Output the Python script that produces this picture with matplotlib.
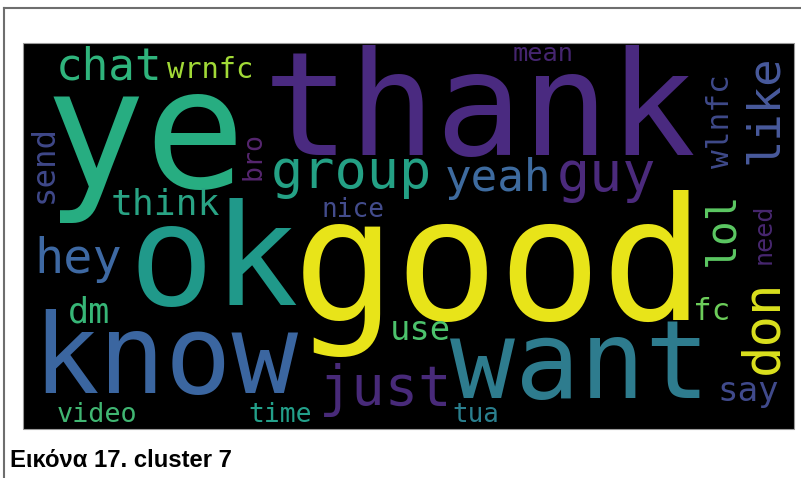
import matplotlib
matplotlib.use("Agg")
import matplotlib.pyplot as plt
from matplotlib.font_manager import FontProperties
from matplotlib.textpath import TextPath
from matplotlib.patches import Rectangle

# words of the cloud for cluster 7
words = ["good", "thank", "ye", "ok", "know", "want",
         "group", "yeah", "guy", "like", "lol", "don", "just", "hey",
         "chat", "wrnfc", "think", "wlnfc", "send", "bro", "nice",
         "dm", "use", "fc", "say", "need", "mean", "video", "time", "tua"]
word_colors = ["#e8e419", "#4a2a80", "#27ad81", "#20998a", "#3b66a0", "#2e7c8e",
               "#24a185", "#3e6b9f", "#4b2a7c", "#485a9c", "#5cc863", "#dbe11e", "#482a79", "#3e69a3",
               "#2fb47c", "#a2da37", "#29a384", "#3f4a8a", "#3f4889", "#56266f", "#434c8c",
               "#37b677", "#4cc26c", "#6ccd5a", "#404a8b", "#47276f", "#45256f", "#40b672", "#23a08a", "#2a7f8e"]
vertical = ["like", "lol", "don", "wlnfc", "send", "bro", "need"]
caption = "Εικόνα 17. cluster 7"

# ink box of each word in the picture, pixels (x0, y0, x1, y1)
layout = {
    "good": (308, 188, 690, 357), "thank": (270, 45, 690, 157),
    "ye": (53, 95, 237, 223), "ok": (135, 197, 293, 307),
    "know": (38, 310, 293, 395), "want": (455, 323, 705, 400),
    "group": (275, 158, 428, 200), "yeah": (440, 163, 556, 200),
    "guy": (563, 157, 650, 203), "like": (742, 48, 772, 170),
    "lol": (702, 187, 728, 270), "don": (738, 277, 773, 377),
    "just": (325, 363, 447, 417), "hey": (28, 245, 128, 283),
    "chat": (58, 47, 160, 80), "wrnfc": (163, 58, 257, 78),
    "think": (113, 187, 218, 215), "wlnfc": (705, 60, 723, 183),
    "send": (28, 128, 53, 200), "bro": (240, 130, 257, 183),
    "nice": (318, 200, 388, 217), "dm": (68, 298, 110, 323),
    "use": (393, 320, 447, 340), "fc": (695, 297, 728, 320),
    "say": (722, 380, 775, 408), "need": (752, 198, 767, 270),
    "mean": (513, 47, 573, 61), "video": (55, 403, 140, 422),
    "time": (248, 403, 313, 422), "tua": (455, 403, 497, 422),
}

W, H, DPI = 801, 478, 100
fig = plt.figure(figsize=(W / DPI, H / DPI), dpi=DPI)
ax = fig.add_axes([0, 0, 1, 1])
ax.set_xlim(0, W)
ax.set_ylim(H, 0)
ax.axis("off")

# frame of the page and the black cloud image
ax.plot([4, W], [8, 8], color="#6e6e6e", lw=1.5)
ax.plot([4, 4], [8, H], color="#6e6e6e", lw=1.5)
ax.add_patch(Rectangle((23, 43), 771, 386, facecolor="black", edgecolor="#9a9a9a", lw=0.8))

mono = FontProperties(family="DejaVu Sans Mono")


def ink_extents(text, fp):
    ext = TextPath((0, 0), text, size=100, prop=fp).get_extents()
    return ext.x0 / 100, ext.y0 / 100, ext.x1 / 100, ext.y1 / 100


for w, c in zip(words, word_colors):
    x0, y0, x1, y1 = layout[w]
    xmin, ymin, xmax, ymax = ink_extents(w, mono)
    rot = w in vertical
    along, across = (y1 - y0, x1 - x0) if rot else (x1 - x0, y1 - y0)
    s = ((along / (xmax - xmin)) * (across / (ymax - ymin))) ** 0.5
    if rot:
        px, py, angle = x0 + ymax * s, (y0 + y1) / 2, 90
    else:
        px, py, angle = (x0 + x1) / 2, y1 + ymin * s, 0
    ax.text(px, py, w, fontproperties=mono, fontsize=s * 72 / DPI, color=c,
            ha="center", va="baseline", rotation=angle, rotation_mode="anchor")

# caption under the picture
cap_font = FontProperties(family="Liberation Sans", weight="bold")
cx0, cy0, cx1, cy1 = ink_extents(caption, cap_font)
cs = 220 / (cx1 - cx0)
ax.text(10, 467, caption, fontproperties=cap_font, fontsize=cs * 72 / DPI,
        color="black", ha="left", va="baseline")

fig.savefig("out.png", dpi=DPI)
